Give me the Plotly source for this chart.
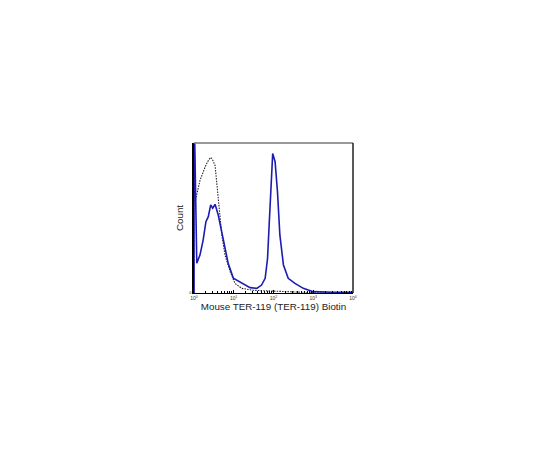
import plotly.graph_objects as go

# kontroll (svart prickad) - log10 av intensitet och relativ count
kontroll_logx = [0.0, 0.0, 0.03, 0.15, 0.28, 0.34, 0.42, 0.47, 0.53, 0.61, 0.70, 0.78,
                 0.91, 1.03, 1.2, 1.49, 1.91, 2.16, 2.5, 3.0, 4.0]
kontroll_count = [0, 120, 61, 75, 84, 87.5, 90.4, 88.7, 85, 61, 38.7, 25.3,
                  14.2, 6.4, 3.1, 1.8, 1.3, 0.9, 0.4, 0.2, 0.2]

# TER-119 Biotin (blå)
ter119_logx = [0.0, 0.0, 0.07, 0.15, 0.23, 0.30, 0.36, 0.42, 0.47, 0.53, 0.61, 0.70,
               0.78, 0.86, 0.99, 1.11, 1.24, 1.41, 1.58, 1.70, 1.79, 1.85, 1.89,
               1.94, 1.98, 2.04, 2.10, 2.16, 2.25, 2.37, 2.54, 2.75, 3.0, 3.5, 4.0]
ter119_count = [0, 130, 19.8, 25.3, 35.3, 47.5, 50.9, 58.7, 56.5, 59.1, 52, 40.9,
                28.7, 19.8, 9.8, 8, 6.4, 3.6, 3.1, 5.3, 9.8, 23, 45,
                78.7, 93, 87.5, 67.5, 38.7, 18.7, 9.8, 6.4, 3.1, 0.9, 0.5, 0.5]

tick_exp = [0, 1, 2, 3, 4]

fig = go.Figure()
fig.add_trace(go.Scatter(
    x=[10 ** v for v in kontroll_logx], y=kontroll_count, mode="lines",
    line=dict(color="#222222", width=1.1, dash="1.5px,1.2px"), showlegend=False
))
fig.add_trace(go.Scatter(
    x=[10 ** v for v in ter119_logx], y=ter119_count, mode="lines",
    line=dict(color="#1c1cb0", width=1.6), showlegend=False
))

minor_vals = [k * 10 ** d for d in tick_exp[:-1] for k in range(2, 10)]

fig.update_xaxes(
    type="log", range=[0, 4],
    tickmode="array",
    tickvals=[10 ** e for e in tick_exp],
    ticktext=["10<sup>%d</sup>" % e for e in tick_exp],
    tickfont=dict(size=5, color="#333"),
    ticks="inside", ticklen=3, tickcolor="black",
    minor=dict(tickmode="array", tickvals=minor_vals, ticks="inside", ticklen=2, tickcolor="black"),
    showline=True, linecolor="black", linewidth=1, showgrid=False, zeroline=False,
    title=dict(text="Mouse TER-119 (TER-119) Biotin", font=dict(size=9.8, color="#222"), standoff=2),
)
fig.update_yaxes(
    range=[0, 100],
    tickmode="array", tickvals=[0], ticktext=["0"],
    tickfont=dict(size=4, color="#333"),
    ticks="", showline=True, linecolor="black", linewidth=1.5,
    showgrid=False, zeroline=False,
    title=dict(text="Count", font=dict(size=9.8, color="#222"), standoff=4),
)

# ram upptill och till höger
fig.add_shape(type="line", xref="paper", yref="paper", x0=0, x1=1, y0=1, y1=1,
              line=dict(color="#777777", width=1.5))
fig.add_shape(type="line", xref="paper", yref="paper", x0=1, x1=1, y0=0, y1=1,
              line=dict(color="#222222", width=1.5))

fig.update_layout(
    width=540, height=450,
    margin=dict(l=186, r=195, t=135, b=165),
    paper_bgcolor="white", plot_bgcolor="white",
    font=dict(family="Liberation Sans, Arial, sans-serif"),
)

fig.write_html("out.html")
